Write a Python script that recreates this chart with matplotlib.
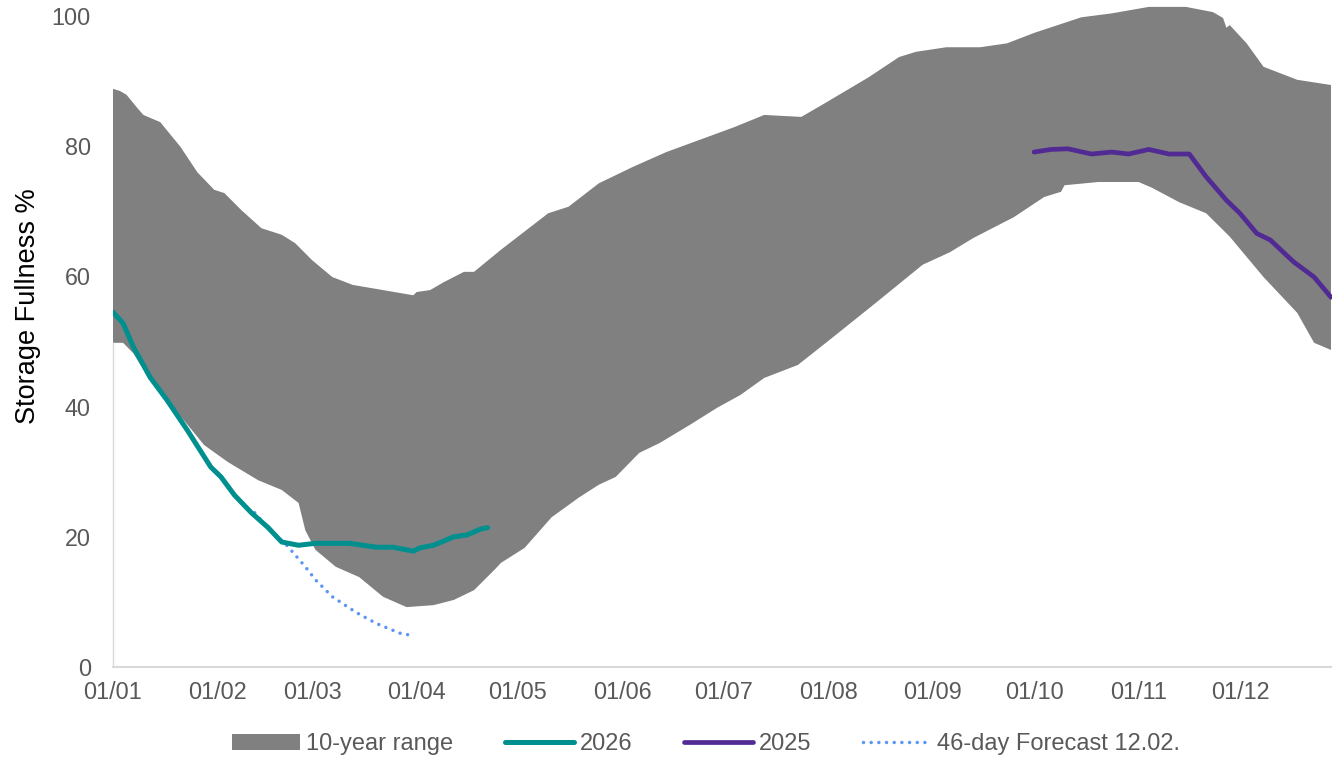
import matplotlib
matplotlib.use("Agg")
import matplotlib.pyplot as plt
import numpy as np

plt.rcParams['font.family'] = ['Liberation Sans', 'DejaVu Sans']

# ---- data (x = day of year, 0 = 1 Jan) ----
upper_days = [0, 2, 4, 7, 9, 14, 20, 25, 30, 33, 38, 44, 50, 54, 59, 65, 71, 80, 89, 90,
              94, 98, 104, 107, 115, 129, 135, 144, 154, 164, 174, 184, 193, 204, 210, 224,
              233, 238, 247, 257, 265, 273, 287, 296, 307, 318, 326, 329, 330, 331, 336,
              341, 351, 361]
upper_vals = [88.8, 88.5, 87.9, 86.0, 84.8, 83.7, 79.9, 76.0, 73.3, 72.8, 70.2, 67.4, 66.4,
              65.1, 62.5, 59.9, 58.7, 57.9, 57.1, 57.6, 57.9, 59.1, 60.7, 60.7, 64.1, 69.7,
              70.7, 74.3, 76.8, 79.1, 81.0, 82.9, 84.8, 84.5, 86.3, 90.6, 93.7, 94.5, 95.2,
              95.2, 95.8, 97.4, 99.8, 100.4, 101.4, 101.4, 100.6, 99.7, 98.2, 98.6, 95.8,
              92.2, 90.2, 89.4]

lower_days = [0, 3, 6, 11, 21, 27, 34, 43, 50, 55, 57, 60, 66, 73, 80, 87, 95, 101, 107,
              113, 115, 122, 130, 138, 144, 149, 156, 162, 171, 179, 186, 193, 203, 213,
              226, 240, 248, 255, 267, 276, 281, 282, 292, 304, 308, 316, 324, 331, 341,
              351, 356, 361]
lower_vals = [49.8, 49.8, 48.2, 44.1, 37.9, 34.1, 31.5, 28.7, 27.2, 25.2, 21.0, 18.0, 15.4,
              13.8, 10.8, 9.2, 9.5, 10.3, 11.8, 14.9, 16.0, 18.3, 23.0, 26.0, 28.0, 29.2,
              32.9, 34.4, 37.2, 39.8, 41.8, 44.4, 46.4, 50.5, 55.9, 61.8, 63.7, 65.9, 69.1,
              72.2, 73.0, 74.0, 74.5, 74.5, 73.6, 71.4, 69.7, 66.1, 59.9, 54.4, 49.8, 48.7]

y2026_days = [0, 3, 6, 11, 16, 22, 29, 32, 36, 41, 46, 50, 55, 60, 70, 78, 83, 89, 91, 95,
              101, 105, 109, 111]
y2026_vals = [54.5, 52.8, 49.2, 44.5, 41.0, 36.4, 30.7, 29.2, 26.4, 23.7, 21.4, 19.2, 18.7,
              19.0, 19.0, 18.4, 18.4, 17.8, 18.3, 18.7, 20.0, 20.3, 21.2, 21.4]

y2025_days = [273, 278, 283, 290, 296, 301, 307, 313, 319, 324, 330, 334, 339, 343, 350,
              356, 361]
y2025_vals = [79.1, 79.5, 79.6, 78.8, 79.1, 78.8, 79.5, 78.8, 78.8, 75.3, 71.7, 69.7, 66.6,
              65.6, 62.2, 59.9, 56.8]

fc_days = [42, 47, 51, 54, 57, 60, 65, 72, 78, 85, 88]
fc_vals = [23.7, 20.7, 19.0, 17.2, 15.4, 13.4, 10.8, 8.4, 6.7, 5.2, 4.9]

month_days = [0, 31, 59, 90, 120, 151, 181, 212, 243, 273, 304, 334]
month_labels = ['01/01', '01/02', '01/03', '01/04', '01/05', '01/06', '01/07', '01/08',
                '01/09', '01/10', '01/11', '01/12']
y_ticks = [0, 20, 40, 60, 80, 100]

# ---- figure ----
W, H = 1332, 761
fig = plt.figure(figsize=(W / 100, H / 100), dpi=100)
ax = fig.add_axes([113 / W, 1 - 667 / H, (1332 - 113) / W, (667 - 16) / H])

txt_color = '#595959'
fs = 16.8

band = ax.fill(np.r_[upper_days, lower_days[::-1]], np.r_[upper_vals, lower_vals[::-1]],
               color='#808080', lw=0, label='10-year range', clip_on=False, zorder=2)[0]
l26, = ax.plot(y2026_days, y2026_vals, color='#008F8F', lw=3.6, solid_capstyle='round',
               solid_joinstyle='round', label='2026', zorder=4)
l25, = ax.plot(y2025_days, y2025_vals, color='#512A94', lw=3.4, solid_capstyle='round',
               solid_joinstyle='round', label='2025', zorder=4, clip_on=False)
lfc, = ax.plot(fc_days, fc_vals, color='#5B95F5', lw=2.5, linestyle=(0, (0.01, 2.2)),
               dash_capstyle='round', label='46-day Forecast 12.02.', zorder=3)

ax.set_xlim(0, 361.3)
ax.set_ylim(0, 100)
ax.set_xticks(month_days)
ax.set_xticklabels(month_labels)
ax.set_yticks(y_ticks)
ax.tick_params(axis='both', length=0, labelsize=fs, labelcolor=txt_color)
ax.tick_params(axis='x', pad=10)
ax.tick_params(axis='y', pad=16)

for s in ['top', 'right']:
    ax.spines[s].set_visible(False)
ax.spines['bottom'].set_color('#d9d9d9')
ax.spines['bottom'].set_linewidth(1.5)
ax.spines['left'].set_color('#d9d9d9')
ax.spines['left'].set_linewidth(1.0)
ax.spines['left'].set_bounds(0, lower_vals[0])

ax.set_ylabel('Storage Fullness %', fontsize=19.5, color='black')
ax.yaxis.set_label_coords(-0.059, 0.555)

leg = fig.legend(handles=[band, l26, l25, lfc], loc='center', ncol=4,
                 bbox_to_anchor=(706 / W, 1 - 744 / H), frameon=False, fontsize=17,
                 handlelength=2.9, handleheight=0.65, handletextpad=0.25, columnspacing=2.2,
                 labelcolor=txt_color)

fig.savefig('out.png', dpi=100)
